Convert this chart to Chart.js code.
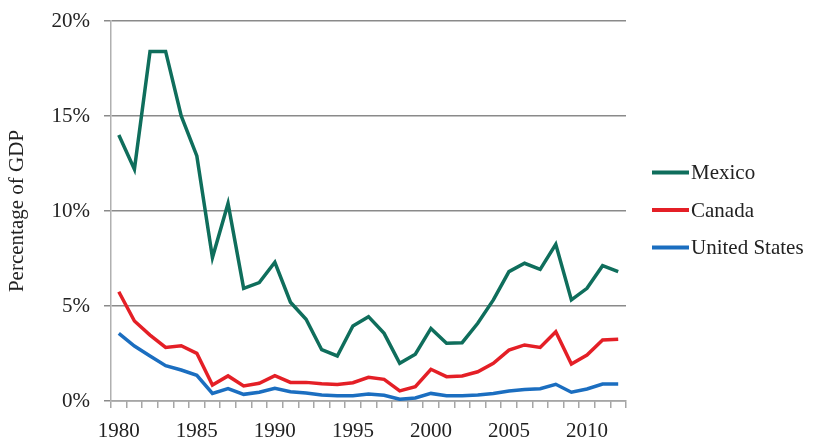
<!DOCTYPE html>
<html>
<head>
<meta charset="utf-8">
<script src="https://cdn.jsdelivr.net/npm/chart.js@4/dist/chart.umd.min.js"></script>
<style>
html,body{margin:0;padding:0;background:#fff;}
#wrap{width:813px;height:440px;position:relative;}
</style>
</head>
<body>
<div id="wrap"><canvas id="c" width="813" height="440"></canvas></div>
<script>
const years = [1980,1981,1982,1983,1984,1985,1986,1987,1988,1989,1990,1991,1992,1993,1994,1995,1996,1997,1998,1999,2000,2001,2002,2003,2004,2005,2006,2007,2008,2009,2010,2011,2012];
const mexico = [14.0,12.2,18.4,18.4,15.0,12.9,7.55,10.4,5.93,6.23,7.3,5.2,4.3,2.7,2.37,3.95,4.44,3.56,1.98,2.46,3.82,3.04,3.07,4.09,5.32,6.81,7.25,6.93,8.25,5.32,5.93,7.12,6.81];
const canada = [5.75,4.21,3.47,2.82,2.91,2.51,0.84,1.32,0.79,0.93,1.33,0.98,0.98,0.91,0.87,0.96,1.25,1.14,0.53,0.75,1.67,1.28,1.32,1.54,1.98,2.68,2.95,2.82,3.65,1.95,2.42,3.21,3.25];
const unitedStates = [3.56,2.89,2.37,1.86,1.63,1.35,0.40,0.65,0.35,0.46,0.67,0.49,0.42,0.32,0.28,0.28,0.37,0.30,0.09,0.16,0.40,0.28,0.28,0.32,0.40,0.53,0.61,0.65,0.88,0.46,0.63,0.89,0.89];
const seriesNames = ['Mexico','Canada','United States'];
const seriesColors = ['#0f6e5c','#e41f26','#1b6ec0'];
const yTicks = [0,5,10,15,20];

const FONT = '"Liberation Serif", "DejaVu Serif", serif';
Chart.defaults.font.family = FONT;
Chart.defaults.color = '#222';

// Legend at the right: short line + label for each dataset
const sideLegend = {
  id: 'sideLegend',
  afterDraw(chart) {
    const ctx = chart.ctx;
    const area = chart.chartArea;
    const x0 = area.right + 26, lineLen = 37, gap = 2, rowH = 37.5;
    const yMid = (area.top + area.bottom) / 2 - 1;
    const n = chart.data.datasets.length;
    ctx.save();
    ctx.font = '21px ' + FONT;
    ctx.textBaseline = 'middle';
    ctx.textAlign = 'left';
    chart.data.datasets.forEach((ds, i) => {
      const y = yMid + (i - (n - 1) / 2) * rowH;
      ctx.strokeStyle = ds.borderColor;
      ctx.lineWidth = 4;
      ctx.beginPath();
      ctx.moveTo(x0, y);
      ctx.lineTo(x0 + lineLen, y);
      ctx.stroke();
      ctx.fillStyle = '#222';
      ctx.fillText(ds.label, x0 + lineLen + gap, y + 1);
    });
    ctx.restore();
  }
};

new Chart(document.getElementById('c'), {
  type: 'line',
  data: {
    labels: years.map(String),
    datasets: [mexico, canada, unitedStates].map((vals, i) => ({
      label: seriesNames[i], data: vals,
      borderColor: seriesColors[i], backgroundColor: seriesColors[i],
      borderWidth: 3.5, pointRadius: 0, tension: 0, fill: false
    }))
  },
  plugins: [sideLegend],
  options: {
    responsive: false,
    animation: false,
    layout: {padding: {left: 0, right: 187, top: 21, bottom: 0}},
    plugins: {
      tooltip: {enabled: false},
      legend: {display: false}
    },
    scales: {
      x: {
        type: 'category',
        offset: true,
        afterFit: (axis) => { axis.height = 39; },
        grid: {display: true, drawOnChartArea: false, drawTicks: true, tickLength: 7, offset: true, color: '#a6a6a6', lineWidth: 1.5},
        border: {display: true, color: '#a6a6a6', width: 1.5},
        ticks: {
          autoSkip: false, maxRotation: 0, padding: 11,
          color: '#222', font: {size: 21, family: FONT},
          callback: function(v, i) { const y = years[i]; return (y % 5 === 0) ? String(y) : ''; }
        }
      },
      y: {
        min: 0, max: 20,
        afterBuildTicks: (axis) => { axis.ticks = yTicks.map(v => ({value: v})); },
        afterFit: (axis) => { axis.width = 111; axis.paddingTop = 0; axis.paddingBottom = 0; },
        grid: {color: '#8a8a8a', lineWidth: 1.5, drawTicks: true, tickLength: 7},
        border: {display: true, color: '#b0b0b0', width: 1.5},
        ticks: {
          padding: 14, color: '#222', font: {size: 21, family: FONT},
          callback: (v) => v + '%'
        },
        title: {display: true, text: 'Percentage of GDP', color: '#222', font: {size: 21, family: FONT}, padding: {top: 5, bottom: 0}}
      }
    }
  }
});
</script>
</body>
</html>
